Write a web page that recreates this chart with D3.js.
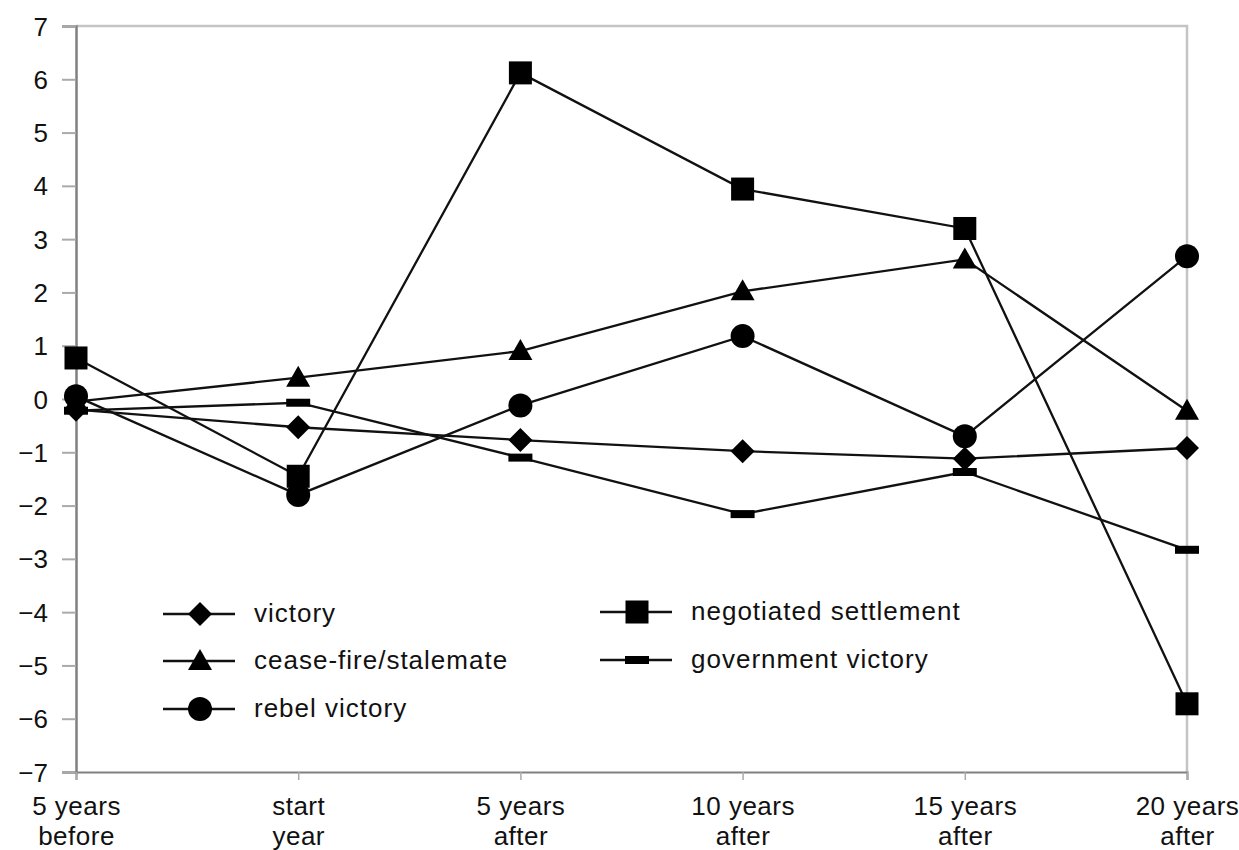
<!DOCTYPE html>
<html><head><meta charset="utf-8">
<script src="https://cdn.jsdelivr.net/npm/d3@7"></script>
<style>body{margin:0;background:#fff}svg{display:block}</style>
</head><body>
<script>
const categories = [["5 years","before"],["start","year"],["5 years","after"],["10 years","after"],["15 years","after"],["20 years","after"]];
const yTicks = [7,6,5,4,3,2,1,0,-1,-2,-3,-4,-5,-6,-7];
const victory = [-0.2,-0.53,-0.77,-0.98,-1.12,-0.92];
const ceasefire = [-0.05,0.4,0.9,2.02,2.62,-0.22];
const rebel = [0.05,-1.8,-0.12,1.18,-0.7,2.68];
const negotiated = [0.77,-1.45,6.12,3.94,3.2,-5.72];
const government = [-0.22,-0.07,-1.1,-2.16,-1.37,-2.83];
const seriesNames = ["victory","cease-fire/stalemate","rebel victory","negotiated settlement","government victory"];
const seriesData = [victory,ceasefire,rebel,negotiated,government];
const seriesMarkers = ["diamond","triangle","circle","square","bar"];

const W=1239,H=850;
const svg=d3.select("body").append("svg").attr("width",W).attr("height",H);
const FONT="'Liberation Sans', Arial, sans-serif";
const x=d3.scalePoint().domain(d3.range(categories.length)).range([76,1187]);
const y=d3.scaleLinear().domain([-7,7]).range([772,26]);

// frame top/right
svg.append("path").attr("d",`M76,${y(7)}H1187V${y(-7)}`).attr("fill","none").attr("stroke","#c4c4c4").attr("stroke-width",2.5);

// y axis
const ya=svg.append("g").attr("transform","translate(76,0)").call(d3.axisLeft(y).tickValues(yTicks).tickSize(14).tickPadding(14).tickFormat(d=>d<0?"\u2212"+Math.abs(d):d));
ya.select(".domain").attr("stroke","#808080").attr("stroke-width",2.5);
ya.selectAll(".tick line").attr("stroke","#aaa").attr("stroke-width",2);
ya.selectAll("text").attr("font-family",FONT).attr("font-size",26).attr("fill","#111").attr("dy","0.35em");

// x axis
const xa=svg.append("g").attr("transform",`translate(0,${y(-7)})`).call(d3.axisBottom(x).tickSize(8).tickFormat(""));
xa.select(".domain").attr("stroke","#808080").attr("stroke-width",2);
xa.selectAll(".tick line").attr("stroke","#aaa").attr("stroke-width",1.5);
xa.selectAll(".tick").each(function(d){
  const t=d3.select(this).append("text").attr("font-family",FONT).attr("font-size",26).attr("fill","#111").attr("text-anchor","middle").attr("letter-spacing","0.5px");
  t.append("tspan").attr("x",0).attr("y",43).text(categories[d][0]);
  t.append("tspan").attr("x",0).attr("y",73).text(categories[d][1]);
});

function drawMarker(g,type,cx,cy){
  if(type==="square") g.append("rect").attr("x",cx-11.5).attr("y",cy-11.5).attr("width",23).attr("height",23).attr("fill","#000");
  else if(type==="circle") g.append("circle").attr("cx",cx).attr("cy",cy).attr("r",12).attr("fill","#000");
  else if(type==="diamond") g.append("path").attr("d",`M${cx},${cy-12}L${cx+12},${cy}L${cx},${cy+12}L${cx-12},${cy}Z`).attr("fill","#000");
  else if(type==="triangle") g.append("path").attr("d",`M${cx},${cy-12}L${cx+12},${cy+9}L${cx-12},${cy+9}Z`).attr("fill","#000");
  else if(type==="bar") g.append("rect").attr("x",cx-12).attr("y",cy-4).attr("width",24).attr("height",8).attr("fill","#000");
}

const line=d3.line().x((d,i)=>x(i)).y(d=>y(d));
seriesData.forEach((data)=>{
  svg.append("path").datum(data).attr("d",line).attr("fill","none").attr("stroke","#111").attr("stroke-width",2.3);
});
seriesData.forEach((data,k)=>{
  const g=svg.append("g");
  data.forEach((v,i)=>drawMarker(g,seriesMarkers[k],x(i),y(v)));
});

// legend
const legendPos=[[163,614],[163,661],[163,709],[600,612],[600,660]];
seriesNames.forEach((name,k)=>{
  const [lx,ly]=legendPos[k];
  const g=svg.append("g");
  g.append("line").attr("x1",lx).attr("x2",lx+72).attr("y1",ly).attr("y2",ly).attr("stroke","#111").attr("stroke-width",2.5);
  drawMarker(g,seriesMarkers[k],lx+37,ly);
  g.append("text").attr("x",lx+91).attr("y",ly).attr("dy","0.3em").attr("font-family",FONT).attr("font-size",26).attr("letter-spacing","1px").attr("fill","#111").text(name);
});
</script>
</body></html>
